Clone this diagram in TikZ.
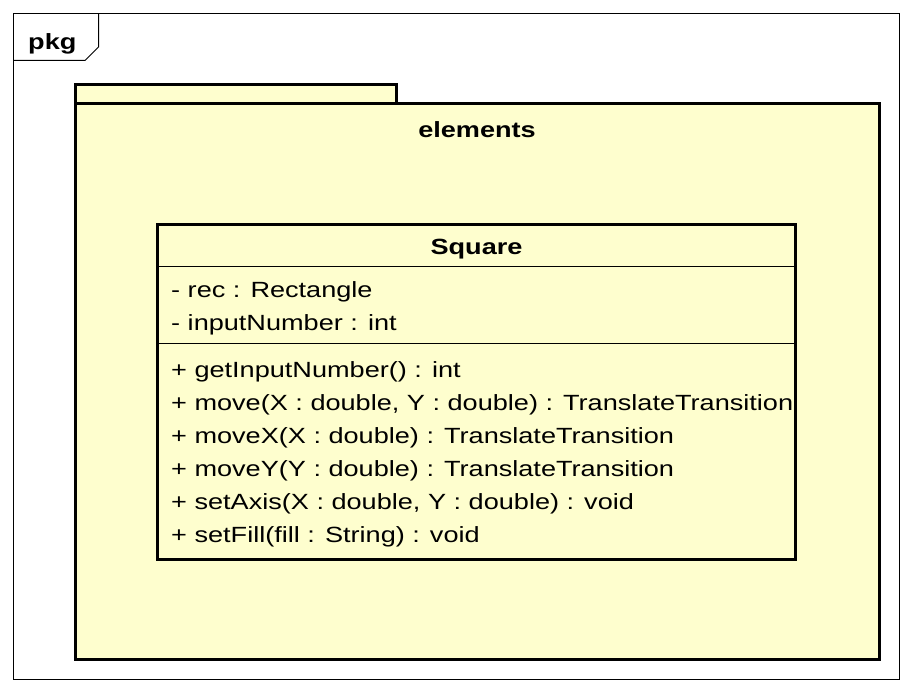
\documentclass[tikz,border=0pt]{standalone}
\usepackage{fontspec}
\setmainfont{Liberation Sans}[FakeStretch=1.232]
\definecolor{umlyellow}{HTML}{FEFECE}
\begin{document}
\begin{tikzpicture}[x=1pt,y=-1pt,
  umlfill/.style={fill=umlyellow},
  thickframe/.style={draw=black, line width=3pt},
  thinframe/.style={draw=black, line width=1pt},
  member/.style={anchor=base west, inner sep=0pt, font=\fontsize{22}{26}\selectfont},
  heading/.style={anchor=base, inner sep=0pt, font=\fontsize{22}{26}\selectfont\bfseries}]
\useasboundingbox (0,0) rectangle (912,693);
\fill[white] (0,0) rectangle (912,693);

% diagram frame with its name tab
\draw[thinframe] (13.5,13.5) rectangle (899.5,679.5);
\draw[thinframe] (98.5,13.5) -- (98.5,47) -- (85,60.5) -- (13.5,60.5);
\node[heading, anchor=base west] (pkglabel) at (28,50) {pkg};

% package "elements": tab and body
\draw[thickframe, umlfill] (75,84) rectangle (396.5,103.5);
\draw[thickframe, umlfill] (75,103.5) rectangle (879,659);
\node[heading] (pkgname) at (477,137) {elements};

% class Square
\draw[thickframe, umlfill] (157.5,224) rectangle (795.5,559.5);
\draw[thinframe] (157.5,266.7) -- (795.5,266.7);
\draw[thinframe] (157.5,343.3) -- (795.5,343.3);
\node[heading] (classname) at (476.5,254) {Square};

% attributes
\node[member] (attr1) at (171,297.3) {- rec : Rectangle};
\node[member] (attr2) at (171,330.6) {- inputNumber : int};

% operations
\node[member] (op1) at (171,377.3) {+ getInputNumber() : int};
\node[member] (op2) at (171,410.3) {+ move(X : double, Y : double) : TranslateTransition};
\node[member] (op3) at (171,443.3) {+ moveX(X : double) : TranslateTransition};
\node[member] (op4) at (171,476.3) {+ moveY(Y : double) : TranslateTransition};
\node[member] (op5) at (171,509.3) {+ setAxis(X : double, Y : double) : void};
\node[member] (op6) at (171,542.3) {+ setFill(fill : String) : void};
\end{tikzpicture}
\end{document}
